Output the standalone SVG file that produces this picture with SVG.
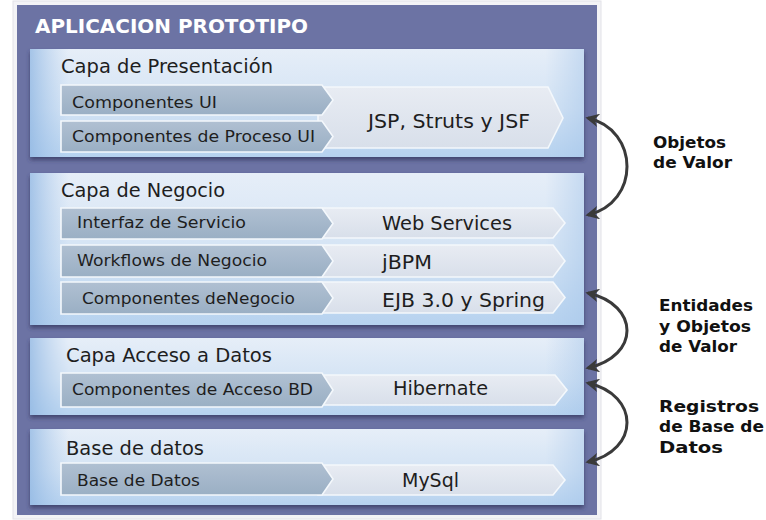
<svg xmlns="http://www.w3.org/2000/svg" width="766" height="520" viewBox="0 0 766 520">
<defs>
<linearGradient id="layerV" x1="0" y1="0" x2="0" y2="1">
<stop offset="0" stop-color="#e6eef8"/>
<stop offset="0.55" stop-color="#d3e3f4"/>
<stop offset="1" stop-color="#b6d2ef"/>
</linearGradient>
<linearGradient id="layerH" x1="0" y1="0" x2="1" y2="0">
<stop offset="0" stop-color="#8fb6e2" stop-opacity="0.75"/>
<stop offset="0.07" stop-color="#a9c8ec" stop-opacity="0"/>
<stop offset="0.93" stop-color="#a9c8ec" stop-opacity="0"/>
<stop offset="1" stop-color="#a6c6ea" stop-opacity="0.5"/>
</linearGradient>
<linearGradient id="darkSeg" x1="0" y1="0" x2="0" y2="1">
<stop offset="0" stop-color="#b0c0d2"/>
<stop offset="1" stop-color="#9aafc4"/>
</linearGradient>
<linearGradient id="lightSeg" x1="0" y1="0" x2="0" y2="1">
<stop offset="0" stop-color="#e8ecf3"/>
<stop offset="1" stop-color="#d8dfea"/>
</linearGradient>
<filter id="shadow" x="-5%" y="-10%" width="110%" height="130%">
<feDropShadow dx="0" dy="3" stdDeviation="2" flood-color="#2e335a" flood-opacity="0.7"/>
</filter>
<marker id="arr" viewBox="0 0 10 10" refX="8" refY="5" markerWidth="4.5" markerHeight="4.5" orient="auto-start-reverse" markerUnits="strokeWidth">
<path d="M0,0 L10,5 L0,10 L3,5 Z" fill="#3a3a3a"/>
</marker>
</defs>
<style>
text { font-family: "DejaVu Sans", Verdana, sans-serif; fill: #1e1e1e; }
.title { font-size: 20px; font-weight: bold; fill: #ffffff; }
.layerTitle { font-size: 19px; }
.barLbl { font-size: 16.5px; }
.techLbl { font-size: 19.5px; }
.side { font-size: 16.5px; font-weight: bold; fill: #111; }
.layer { fill: url(#layerV); filter: url(#shadow); }
.layerTint { fill: url(#layerH); }
.dark { fill: url(#darkSeg); stroke: #f4f8fc; stroke-width: 1.6; }
.light { fill: url(#lightSeg); stroke: #f4f8fc; stroke-width: 1.6; }
.arc { fill: none; stroke: #3a3a3a; stroke-width: 3; marker-start: url(#arr); marker-end: url(#arr); }
</style>
<rect x="0" y="0" width="766" height="520" fill="#ffffff"/>

<g id="panel">
<rect x="13" y="1" width="588" height="518" fill="#f3f3f6" stroke="#e2e2e8" stroke-width="1"/>
<rect x="17" y="5" width="580" height="510" fill="#6c73a4"/>
<text class="title" x="35" y="33" textLength="273" lengthAdjust="spacingAndGlyphs">APLICACION PROTOTIPO</text>
</g>

<g id="capa-presentacion">
<rect class="layer" x="30" y="49" width="554" height="108"/>
<rect class="layerTint" x="30" y="49" width="554" height="108"/>
<text class="layerTitle" x="61" y="73" textLength="212" lengthAdjust="spacingAndGlyphs">Capa de Presentación</text>
<polygon class="light" points="318,87 548,87 563,118 548,148 318,148"/>
<polygon class="dark" points="61,85 322,85 333,100 322,115 61,115"/>
<polygon class="dark" points="61,121 322,121 333,136.5 322,152 61,152"/>
<text class="barLbl" x="72" y="108" textLength="145" lengthAdjust="spacingAndGlyphs">Componentes UI</text>
<text class="barLbl" x="72" y="142" textLength="243" lengthAdjust="spacingAndGlyphs">Componentes de Proceso UI</text>
<text class="techLbl" x="368" y="128" textLength="162" lengthAdjust="spacingAndGlyphs">JSP, Struts y JSF</text>
</g>

<g id="capa-negocio">
<rect class="layer" x="30" y="173" width="554" height="152"/>
<rect class="layerTint" x="30" y="173" width="554" height="152"/>
<text class="layerTitle" x="61" y="197" textLength="164" lengthAdjust="spacingAndGlyphs">Capa de Negocio</text>
<polygon class="light" points="318,208 553,208 565,223 553,238 318,238"/>
<polygon class="light" points="318,245 553,245 565,261 553,277 318,277"/>
<polygon class="light" points="318,282 553,282 565,297.5 553,313 318,313"/>
<polygon class="dark" points="61,208 322,208 333,223.5 322,239 61,239"/>
<polygon class="dark" points="61,245 322,245 333,261 322,277 61,277"/>
<polygon class="dark" points="61,282 322,282 333,298 322,314 61,314"/>
<text class="barLbl" x="77" y="228" textLength="169" lengthAdjust="spacingAndGlyphs">Interfaz de Servicio</text>
<text class="barLbl" x="77" y="266" textLength="190" lengthAdjust="spacingAndGlyphs">Workflows de Negocio</text>
<text class="barLbl" x="82" y="304" textLength="213" lengthAdjust="spacingAndGlyphs">Componentes deNegocio</text>
<text class="techLbl" x="382" y="230" textLength="130" lengthAdjust="spacingAndGlyphs">Web Services</text>
<text class="techLbl" x="382" y="269" textLength="50" lengthAdjust="spacingAndGlyphs">jBPM</text>
<text class="techLbl" x="382" y="307" textLength="163" lengthAdjust="spacingAndGlyphs">EJB 3.0 y Spring</text>
</g>

<g id="capa-acceso-datos">
<rect class="layer" x="30" y="338" width="554" height="77"/>
<rect class="layerTint" x="30" y="338" width="554" height="77"/>
<text class="layerTitle" x="66" y="362" textLength="206" lengthAdjust="spacingAndGlyphs">Capa Acceso a Datos</text>
<polygon class="light" points="318,375 555,375 567,390 555,405 318,405"/>
<polygon class="dark" points="61,373 322,373 333,390 322,407 61,407"/>
<text class="barLbl" x="72" y="395" textLength="241" lengthAdjust="spacingAndGlyphs">Componentes de Acceso BD</text>
<text class="techLbl" x="393" y="395" textLength="95" lengthAdjust="spacingAndGlyphs">Hibernate</text>
</g>

<g id="base-de-datos">
<rect class="layer" x="30" y="429" width="554" height="76"/>
<rect class="layerTint" x="30" y="429" width="554" height="76"/>
<text class="layerTitle" x="66" y="455" textLength="138" lengthAdjust="spacingAndGlyphs">Base de datos</text>
<polygon class="light" points="318,465 553,465 565,480 553,495 318,495"/>
<polygon class="dark" points="61,463 322,463 333,479 322,495 61,495"/>
<text class="barLbl" x="77" y="486" textLength="123" lengthAdjust="spacingAndGlyphs">Base de Datos</text>
<text class="techLbl" x="402" y="487" textLength="57" lengthAdjust="spacingAndGlyphs">MySql</text>
</g>

<g id="connectors">
<path class="arc" d="M 588 118 C 640 130, 640 203, 588 215"/>
<path class="arc" d="M 588 293 C 640 305, 640 356, 588 368"/>
<path class="arc" d="M 588 383 C 640 395, 640 450, 588 462"/>
</g>

<g id="lbl-objetos-valor">
<text class="side" x="653" y="148" textLength="73" lengthAdjust="spacingAndGlyphs">Objetos</text>
<text class="side" x="653" y="168" textLength="79" lengthAdjust="spacingAndGlyphs">de Valor</text>
</g>
<g id="lbl-entidades">
<text class="side" x="659" y="311" textLength="94" lengthAdjust="spacingAndGlyphs">Entidades</text>
<text class="side" x="659" y="332" textLength="92" lengthAdjust="spacingAndGlyphs">y Objetos</text>
<text class="side" x="659" y="352" textLength="78" lengthAdjust="spacingAndGlyphs">de Valor</text>
</g>
<g id="lbl-registros">
<text class="side" x="659" y="412" textLength="100" lengthAdjust="spacingAndGlyphs">Registros</text>
<text class="side" x="659" y="432" textLength="105" lengthAdjust="spacingAndGlyphs">de Base de</text>
<text class="side" x="659" y="453" textLength="64" lengthAdjust="spacingAndGlyphs">Datos</text>
</g>
</svg>
